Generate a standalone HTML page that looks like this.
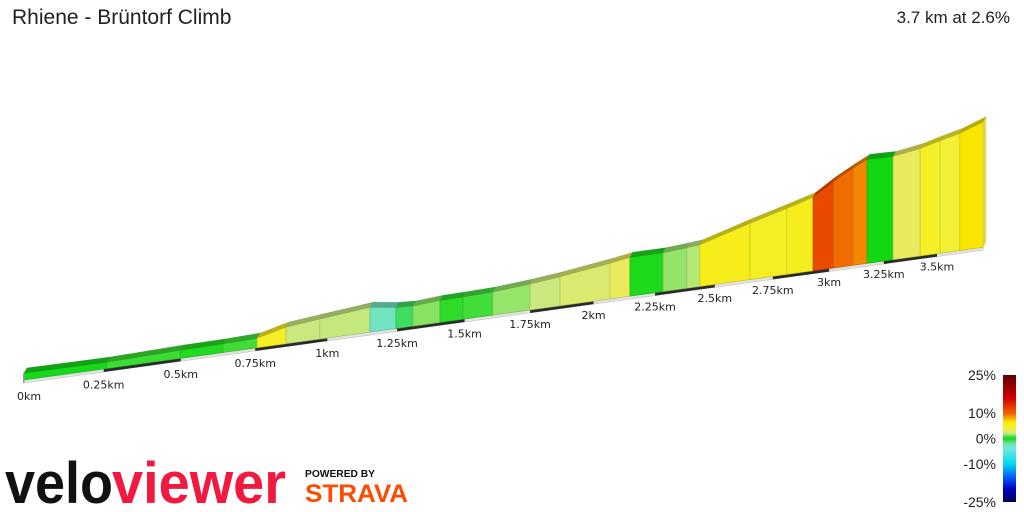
<!DOCTYPE html>
<html><head><meta charset="utf-8">
<style>
html,body{margin:0;padding:0;background:#fff;}
body{width:1024px;height:512px;overflow:hidden;position:relative;font-family:"Liberation Sans",sans-serif;}
#title{position:absolute;left:12px;top:6px;font-size:21px;color:#222;}
#summary{position:absolute;right:14px;top:8px;font-size:17px;color:#222;}
svg{position:absolute;left:0;top:0;}
</style></head>
<body>
<div id="title">Rhiene - Brüntorf Climb</div>
<div id="summary">3.7 km at 2.6%</div>
<svg id="chart" width="1024" height="512">
  <defs>
    <linearGradient id="gradLegend" x1="0" y1="0" x2="0" y2="1"></linearGradient>
  </defs>
  <g id="profile"></g>
  <g id="ticks"></g>
  <g id="legend"></g>
  <g>
    <text x="5" y="503" font-family="Liberation Sans, sans-serif" font-weight="bold" font-size="58" textLength="108" lengthAdjust="spacingAndGlyphs" fill="#111">velo</text>
    <text x="112" y="503" font-family="Liberation Sans, sans-serif" font-weight="bold" font-size="58" textLength="174" lengthAdjust="spacingAndGlyphs" fill="#f2193f">viewer</text>
  </g>
  <g>
    <text x="305" y="477" font-family="Liberation Sans, sans-serif" font-weight="bold" font-size="10" textLength="70" lengthAdjust="spacingAndGlyphs" fill="#111">POWERED BY</text>
    <text x="305" y="502" font-family="Liberation Sans, sans-serif" font-weight="bold" font-size="25" textLength="103" lengthAdjust="spacingAndGlyphs" fill="#fc4c02">STRAVA</text>
  </g>
</svg>
<script>
// data
const distKm = [0,0.26,0.5,0.641,0.756,0.856,0.974,1.152,1.246,1.308,1.408,1.494,1.607,1.75,1.867,2.066,2.147,2.283,2.382,2.437,2.651,2.812,2.928,3.018,3.108,3.173,3.293,3.42,3.515,3.61,3.723];
const elevM = [44.5,44.2,45.5,45.8,46.5,51.4,53.8,57.3,54.8,54.2,55.6,55.9,56.6,58.8,61.2,66.3,68.8,69.0,70.5,71.5,83.0,91.0,97.1,107.4,116.1,121.9,121.9,125.8,130.4,134.6,142.0];
const tickKm = [0,0.25,0.5,0.75,1,1.25,1.5,1.75,2,2.25,2.5,2.75,3,3.25,3.5];
const tickLabels = ["0km","0.25km","0.5km","0.75km","1km","1.25km","1.5km","1.75km","2km","2.25km","2.5km","2.75km","3km","3.25km","3.5km"];
const legendValues = [25,10,0,-10,-25];
const legendLabels = ["25%","10%","0%","-10%","-25%"];
const colorGrades = [-25,-20,-15,-10,-4,-2,0,1,2,3,4.5,6.5,8,10,12,16,25];
const colorHex = ["#000050","#0000c0","#0060ff","#00d8f0","#70e8e0","#70e0b0","#12d812","#5ee050","#c8e880","#eaea60","#f4f030","#f8e800","#f8a800","#f06000","#e84000","#d00000","#600000"];

const NS="http://www.w3.org/2000/svg";
const A=324.4,B=0.0696,X0=24,Y0=380,SLOPE=0.1384,K=1.55,BASE_ELEV=40;
function xOf(d){return X0+A*d/(1+B*d);}
function baseY(d){return Y0-SLOPE*(xOf(d)-X0);}
function topY(d,e){return baseY(d)-K*(e-BASE_ELEV)/(1+B*d);}
function hex2rgb(h){return [parseInt(h.substr(1,2),16),parseInt(h.substr(3,2),16),parseInt(h.substr(5,2),16)];}
function gradeColor(g,f){
  f=f||1;
  if(g<=colorGrades[0]) g=colorGrades[0];
  if(g>=colorGrades[colorGrades.length-1]) g=colorGrades[colorGrades.length-1];
  let i=0; while(i<colorGrades.length-2 && g>colorGrades[i+1]) i++;
  const t=(g-colorGrades[i])/(colorGrades[i+1]-colorGrades[i]);
  const a=hex2rgb(colorHex[i]),b=hex2rgb(colorHex[i+1]);
  const c=a.map((v,k)=>Math.round((v+(b[k]-v)*t)*f));
  return "rgb("+c.join(",")+")";
}
function mk(tag,attrs,parent){const el=document.createElementNS(NS,tag);for(const k in attrs)el.setAttribute(k,attrs[k]);parent.appendChild(el);return el;}

const prof=document.getElementById('profile');
const DX=3,DY=-5;
const dEnd=distKm[distKm.length-1];
const strip=mk('polygon',{points:`${xOf(0)},${baseY(0)} ${xOf(dEnd)},${baseY(dEnd)} ${xOf(dEnd)},${baseY(dEnd)+3} ${xOf(0)},${baseY(0)+3}`,fill:'#e2e2e2',stroke:'#bbb','stroke-width':0.5},prof);


for(let q=0;q<tickKm.length;q++){
  const d0=tickKm[q];
  if(q%2===1 && d0+0.25<=dEnd+0.01){
    const d1=d0+0.25;
    const bar=mk('polygon',{points:`${xOf(d0)},${baseY(d0)} ${xOf(d1)},${baseY(d1)} ${xOf(d1)},${baseY(d1)+3} ${xOf(d0)},${baseY(d0)+3}`,fill:'#2a2a2a'},prof);
    
    
  }
}
for(let i=0;i<distKm.length-1;i++){
  const d0=distKm[i],d1=distKm[i+1];
  const g=(elevM[i+1]-elevM[i])/((d1-d0)*1000)*100;
  const x0=xOf(d0),x1=xOf(d1),b0=baseY(d0),b1=baseY(d1),t0=topY(d0,elevM[i]),t1=topY(d1,elevM[i+1]);
  const face=mk('polygon',{points:`${x0},${b0} ${x1},${b1} ${x1},${t1} ${x0},${t0}`,fill:gradeColor(g),stroke:gradeColor(g,0.8),'stroke-width':0.6},prof);
  
  
  const topf=mk('polygon',{points:`${x0},${t0} ${x1},${t1} ${x1+DX},${t1+DY} ${x0+DX},${t0+DY}`,fill:gradeColor(g,0.75),stroke:gradeColor(g,0.7),'stroke-width':0.4},prof);
  
  
}
{
  const d=dEnd,x=xOf(d),b=baseY(d),t=topY(d,elevM[elevM.length-1]);
  const side=mk('polygon',{points:`${x},${b} ${x+DX},${b+DY} ${x+DX},${t+DY} ${x},${t}`,fill:'#d8d860'},prof);
  
  
  const s0=mk('rect',{x:xOf(0)-1,y:topY(0,elevM[0]),width:1.5,height:baseY(0)-topY(0,elevM[0])+3,fill:'#999'},prof);
  
  
}
const tg=document.getElementById('ticks');
for(let i=0;i<tickKm.length;i++){
  const d=tickKm[i];
  const tx=mk('text',{x:i===0?17:xOf(d),y:baseY(d)+16/(1+B*d)+4,'font-family':'DejaVu Sans, sans-serif','font-size':11,fill:'#222','text-anchor':i===0?'start':'middle'},tg);
  tx.textContent=tickLabels[i];
  
  
}
const lg=document.getElementById('gradLegend');
for(let i=colorGrades.length-1;i>=0;i--){
  mk('stop',{offset:((25-colorGrades[i])/50).toFixed(4),'stop-color':colorHex[i]},lg);
}
const L=document.getElementById('legend');
const LT=375,LB=502;
function legY(v){return LT+(25-v)/50*(LB-LT);}
const bar=mk('rect',{x:1003,y:LT,width:13,height:LB-LT,fill:'url(#gradLegend)'},L);


for(let i=0;i<legendValues.length;i++){
  const t=mk('text',{x:996,y:legY(legendValues[i])+5,'text-anchor':'end','font-family':'Liberation Sans, sans-serif','font-size':14,fill:'#222'},L);
  t.textContent=legendLabels[i];
  
  
}
</script>
</body></html>
